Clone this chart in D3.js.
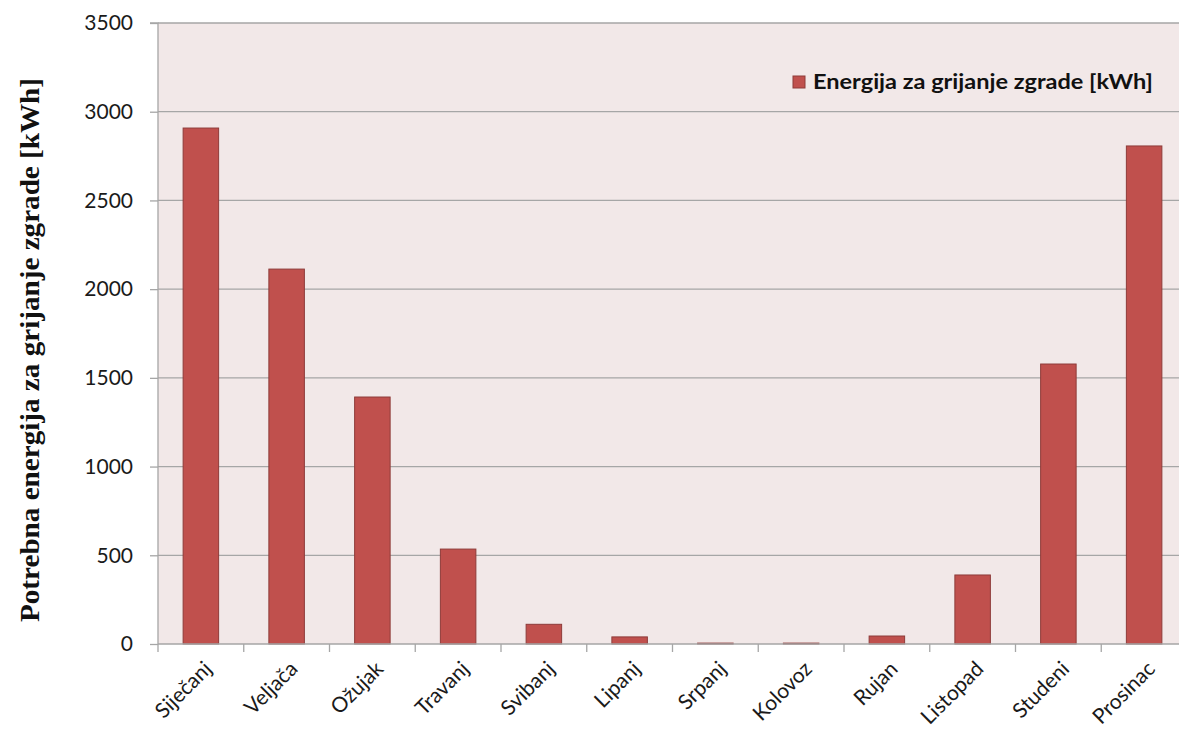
<!DOCTYPE html>
<html><head><meta charset="utf-8">
<script src="https://cdn.jsdelivr.net/npm/d3@7"></script>
<style>html,body{margin:0;padding:0;background:#fff;overflow:hidden}</style>
</head><body>
<svg id="c" width="1179" height="733"></svg>
<script>
const months = ["Siječanj","Veljača","Ožujak","Travanj","Svibanj","Lipanj","Srpanj","Kolovoz","Rujan","Listopad","Studeni","Prosinac"];
const energy = [2908, 2113, 1392, 535, 111, 40, 5, 5, 45, 389, 1578, 2807];
const yTicks = [0, 500, 1000, 1500, 2000, 2500, 3000, 3500];
const seriesName = "Energija za grijanje zgrade [kWh]";
const yTitle = "Potrebna energija za grijanje zgrade [kWh]";

const svg = d3.select("#c");
const L = 158, T = 23, B = 644, R = 1187;
const x = d3.scaleBand().domain(months).range([L, R]).paddingInner(0.586).paddingOuter(0.293);
const y = d3.scaleLinear().domain([0, 3500]).range([B, T]);
const font = "Lato, 'Open Sans', sans-serif";

svg.append("rect").attr("x", L).attr("y", T).attr("width", R - L).attr("height", B - T).attr("fill", "#f2e8e8");

// gridlines
svg.append("g").selectAll("line").data(yTicks.filter(d => d > 0)).join("line")
  .attr("x1", L).attr("x2", R).attr("y1", d => y(d)).attr("y2", d => y(d))
  .attr("stroke", "#a6a6a6").attr("stroke-width", 1.3);

// bars
svg.append("g").selectAll("rect").data(energy).join("rect")
  .attr("x", (d, i) => x(months[i]))
  .attr("width", x.bandwidth())
  .attr("y", d => y(d))
  .attr("height", d => B - y(d))
  .attr("fill", "#c0504d").attr("stroke", "#8e3b39").attr("stroke-width", 1);

// y axis
const ya = svg.append("g").attr("transform", `translate(${L},0)`)
  .call(d3.axisLeft(y).tickValues(yTicks).tickSize(8).tickPadding(17).tickFormat(d3.format("d")));
ya.select(".domain").attr("stroke", "#a6a6a6").attr("stroke-width", 1.3).attr("d", `M-8,${T}H0V${B}`);
ya.selectAll(".tick line").attr("stroke", "#a6a6a6").attr("stroke-width", 1.3);
ya.selectAll(".tick text").attr("font-family", font).attr("font-size", 21).attr("fill", "#1a1a1a");

// x axis
const xPos = d3.scalePoint().domain(d3.range(13)).range([L, R]);
const xa = svg.append("g").attr("transform", `translate(0,${B})`);
xa.append("line").attr("x1", L).attr("x2", R).attr("stroke", "#a6a6a6").attr("stroke-width", 1.3);
xa.selectAll("line.t").data(d3.range(13)).join("line").attr("class", "t")
  .attr("x1", d => xPos(d)).attr("x2", d => xPos(d)).attr("y1", 0).attr("y2", 8)
  .attr("stroke", "#a6a6a6").attr("stroke-width", 1.3);
xa.selectAll("text").data(months).join("text")
  .attr("transform", d => `translate(${x(d) + x.bandwidth() / 2 + 7},${21}) rotate(-45)`)
  .attr("text-anchor", "end").attr("dy", "0.35em")
  .attr("font-family", font).attr("font-size", 21).attr("fill", "#1a1a1a").text(d => d);

// y title
svg.append("text").attr("transform", `translate(39,350) rotate(-90)`)
  .attr("text-anchor", "middle").attr("font-family", "'Liberation Serif', 'Times New Roman', serif")
  .attr("font-weight", "bold").attr("font-size", 28).attr("fill", "#111")
  .attr("textLength", 544).attr("lengthAdjust", "spacingAndGlyphs").text(yTitle);

// legend
const lg = svg.append("g").attr("transform", "translate(793,76)");
lg.append("rect").attr("width", 12).attr("height", 12).attr("fill", "#c0504d").attr("stroke", "#8e3b39");
lg.append("text").attr("x", 20).attr("y", 13).attr("font-family", font).attr("font-weight", "bold")
  .attr("font-size", 21).attr("fill", "#111")
  .attr("textLength", 340).attr("lengthAdjust", "spacingAndGlyphs").text(seriesName);
</script>
</body></html>
